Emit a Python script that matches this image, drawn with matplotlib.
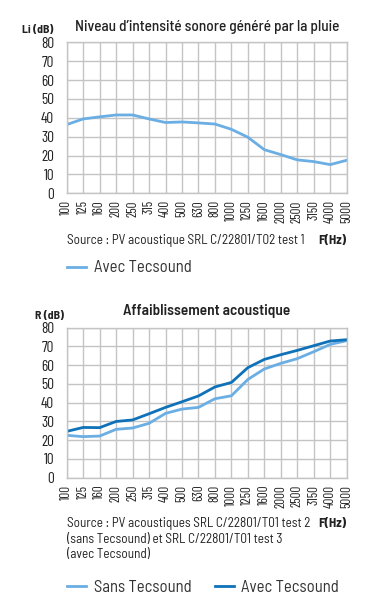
import matplotlib.pyplot as plt

freqs = ["100", "125", "160", "200", "250", "315", "400", "500", "630", "800",
         "1000", "1250", "1600", "2000", "2500", "3150", "4000", "5000"]

# Niveau d'intensite sonore (Li, dB)
li_avec = [36.4, 39.4, 40.5, 41.5, 41.5, 39.4, 37.5, 37.8, 37.3, 36.7,
           33.9, 29.7, 23.1, 20.5, 17.7, 16.8, 15.2, 17.5]

# Affaiblissement acoustique (R, dB)
r_sans = [22.6, 21.9, 22.2, 25.8, 26.5, 29.0, 34.3, 36.6, 37.5, 42.1,
          43.7, 52.4, 58.0, 61.0, 63.5, 67.2, 71.1, 73.1]
r_avec = [24.7, 26.8, 26.7, 30.0, 30.8, 34.1, 37.5, 40.5, 43.6, 48.4,
          50.8, 58.7, 63.1, 65.6, 67.9, 70.4, 72.9, 73.6]

yticks = [0, 10, 20, 30, 40, 50, 60, 70, 80]

LIGHT = "#6aaee4"
DARK = "#0f72b9"
GRID = "#c4c4c4"
TXT = "#222222"

SEMI = ["Barlow Semi Condensed", "Roboto Condensed", "DejaVu Sans"]
COND = ["Barlow Condensed", "Roboto Condensed", "DejaVu Sans"]
plt.rcParams["font.family"] = SEMI

W, H = 378, 600
fig = plt.figure(figsize=(W / 100, H / 100), dpi=100)


def fx(px):
    return px / W


def fy(py):
    return 1 - py / H


def setup_axes(ax):
    x = list(range(len(freqs)))
    ax.set_xlim(0, len(freqs) - 1)
    ax.set_ylim(0, 80)
    ax.set_xticks(x)
    ax.set_xticklabels(freqs, rotation=90, fontsize=9.5, color=TXT,
                       family=COND)
    ax.set_yticks(yticks)
    ax.set_yticklabels([str(v) for v in yticks], fontsize=11, color=TXT,
                       family=COND)
    ax.tick_params(length=0)
    ax.tick_params(axis="y", pad=9)
    ax.tick_params(axis="x", pad=5)
    ax.grid(True, color=GRID, linewidth=1)
    ax.set_axisbelow(True)
    for s in ax.spines.values():
        s.set_color(GRID)
        s.set_linewidth(1)
    return x


def add_legend(handles, labels, ypx):
    fig.legend(handles, labels, loc="center left",
               bbox_to_anchor=(fx(67), fy(ypx)), frameon=False, fontsize=12,
               ncol=len(handles), handlelength=1.15, handletextpad=0.45,
               columnspacing=1.4, borderpad=0, borderaxespad=0,
               labelcolor="#333333")


# top chart
ax1 = fig.add_axes([fx(66.7), fy(193.3), fx(280), (193.3 - 42.3) / H])
x = setup_axes(ax1)
l1, = ax1.plot(x, li_avec, color=LIGHT, lw=2.0, solid_joinstyle="round")

fig.text(fx(207), fy(27), "Niveau d’intensité sonore généré par la pluie",
         ha="center", va="center", fontsize=11, fontweight="medium", color=TXT)
fig.text(fx(53), fy(30), "Li (dB)", ha="right", va="center", fontsize=8.5,
         fontweight="bold", color=TXT)
fig.text(fx(67), fy(241), "Source : PV acoustique SRL C/22801/T02 test 1",
         ha="left", va="center", fontsize=9.5, color=TXT)
fig.text(fx(346), fy(241), "F(Hz)", ha="right", va="center", fontsize=9.5,
         fontweight="bold", color=TXT)
add_legend([l1], ["Avec Tecsound"], 268)

# bottom chart
ax2 = fig.add_axes([fx(66.7), fy(477.7), fx(280), (477.7 - 327.7) / H])
x = setup_axes(ax2)
l2, = ax2.plot(x, r_sans, color=LIGHT, lw=2.0, solid_joinstyle="round")
l3, = ax2.plot(x, r_avec, color=DARK, lw=2.0, solid_joinstyle="round")

fig.text(fx(207), fy(311), "Affaiblissement acoustique",
         ha="center", va="center", fontsize=11, fontweight="semibold",
         color=TXT)
fig.text(fx(64), fy(316), "R (dB)", ha="right", va="center", fontsize=8.5,
         fontweight="bold", color=TXT)
fig.text(fx(67), fy(517),
         "Source : PV acoustiques SRL C/22801/T01 test 2\n"
         "(sans Tecsound) et SRL C/22801/T01 test 3\n"
         "(avec Tecsound)",
         ha="left", va="top", fontsize=9.5, color=TXT, linespacing=1.26)
fig.text(fx(346), fy(524), "F(Hz)", ha="right", va="center", fontsize=9.5,
         fontweight="bold", color=TXT)
add_legend([l2, l3], ["Sans Tecsound", "Avec Tecsound"], 587)

fig.savefig("out.png", dpi=100)
